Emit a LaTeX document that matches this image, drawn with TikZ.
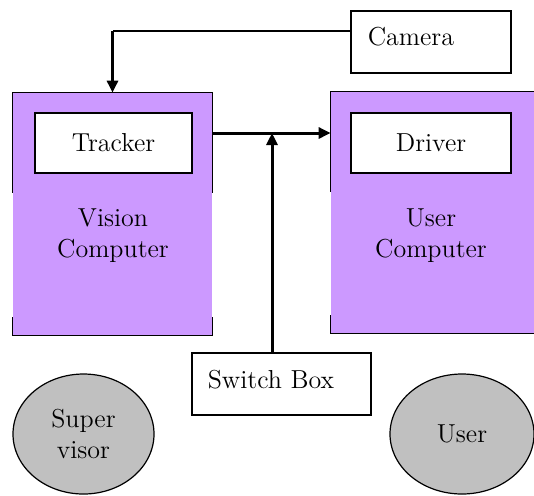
\documentclass[tikz,border=0pt]{standalone}
\usetikzlibrary{arrows.meta,shapes.geometric}
\definecolor{lilac}{HTML}{CC99FF}
\definecolor{silver}{HTML}{C0C0C0}
\begin{document}
\begin{tikzpicture}[x=0.5pt,y=-0.5pt,
  every node/.style={font=\fontsize{13}{15.5}\selectfont},
  box/.style={draw,fill=white,line width=0.6pt,inner sep=0pt},
  comp/.style={fill=lilac,inner sep=0pt,minimum width=99.5pt,minimum height=121pt},
  person/.style={ellipse,draw,fill=silver,line width=0.6pt,inner sep=0pt,
    minimum width=70.5pt,minimum height=60pt,align=center},
  txt/.style={inner sep=0pt,align=center},
  link/.style={line width=1.5pt,-{Triangle[length=6pt,width=5.5pt]}}]
\useasboundingbox (0,0) rectangle (534,495);
%\draw[step=50,gray,very thin] (0,0) grid (534,495); %background grid

% computers
\node[comp] (vision) at (112.5,214) {};
\node[comp,minimum width=104.5pt,minimum height=120.5pt] (usercomp) at (435.5,212.5) {};
\draw[line width=0.6pt] ([yshift=-50pt]vision.north west) -- (vision.north west)
  -- (vision.north east) -- ([yshift=-50pt]vision.north east);
\draw[line width=0.6pt] ([yshift=9pt]vision.south west) -- (vision.south west)
  -- (vision.south east) -- ([yshift=9pt]vision.south east);
\draw[line width=0.6pt] (usercomp.north east) -- (usercomp.north west)
  -- ([yshift=-50pt]usercomp.north west);
\draw[line width=0.6pt] ([yshift=9pt]usercomp.south west) -- (usercomp.south west)
  -- (usercomp.south east);
\node[txt] (visiontxt) at (113,236) {Vision\\Computer};
\node[txt] (usertxt) at (431,236) {User\\Computer};

\node[box,minimum width=78.5pt,minimum height=30pt] (tracker) at (113.5,143) {Tracker};
\node[box,minimum width=80pt,minimum height=30pt] (driver) at (431,143) {Driver};

% camera and switch
\node[box,minimum width=80pt,minimum height=31pt] (camera) at (431,42) {};
\node[txt,anchor=west] (camtxt) at ([xshift=8.5pt,yshift=2.5pt]camera.west) {Camera};
\node[box,minimum width=89.5pt,minimum height=31pt] (switch) at (281.5,384) {};
\node[txt,anchor=west] (switchtxt) at ([xshift=8pt,yshift=2pt]switch.west) {Switch Box};

% people
\node[person] (supervisor) at (83.5,434) {Super\\visor};
\node[person,minimum width=72pt] (user) at (462,434) {User};

% connectors
\coordinate (camout) at ([yshift=5.5pt]camera.west);
\coordinate (camturn) at (vision.north |- camout);
\coordinate (junction) at (272,133);
\draw[line width=0.6pt] (camout) -- (camturn);
\draw[link] (camturn) -- (vision.north);
\draw[link] (vision.east |- junction) -- (usercomp.west |- junction);
\draw[link] (switch.north -| junction) -- (junction);

\end{tikzpicture}
\end{document}
